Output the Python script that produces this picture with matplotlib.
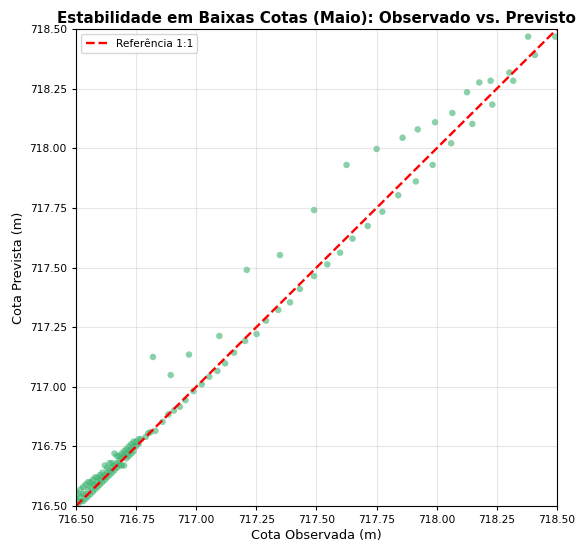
import numpy as np
import matplotlib.pyplot as plt

# dense cluster near the bottom-left corner (observed, predicted)
obs_cluster = [716.50, 716.50, 716.50, 716.51, 716.51, 716.51, 716.52, 716.52, 716.52,
               716.53, 716.53, 716.53, 716.54, 716.54, 716.54, 716.55, 716.55, 716.55,
               716.56, 716.56, 716.56, 716.57, 716.57, 716.57, 716.58, 716.58, 716.58,
               716.59, 716.59, 716.59, 716.60, 716.60, 716.60, 716.61, 716.61, 716.61,
               716.62, 716.62, 716.62, 716.63, 716.63, 716.63, 716.64, 716.64, 716.64,
               716.65, 716.65, 716.65, 716.66, 716.66, 716.66, 716.67, 716.67, 716.67,
               716.68, 716.68, 716.68, 716.69, 716.69, 716.69, 716.70, 716.70, 716.70,
               716.71, 716.71, 716.71, 716.72, 716.72, 716.72, 716.73, 716.73, 716.73,
               716.74, 716.74, 716.74, 716.75, 716.75, 716.76, 716.76, 716.77]
pred_cluster = [716.51, 716.53, 716.56, 716.50, 716.52, 716.55, 716.52, 716.54, 716.57,
                716.52, 716.55, 716.58, 716.53, 716.55, 716.59, 716.54, 716.57, 716.60,
                716.55, 716.58, 716.60, 716.56, 716.59, 716.61, 716.57, 716.59, 716.62,
                716.58, 716.60, 716.62, 716.59, 716.61, 716.63, 716.60, 716.62, 716.64,
                716.61, 716.63, 716.67, 716.62, 716.64, 716.66, 716.63, 716.65, 716.68,
                716.64, 716.66, 716.68, 716.65, 716.67, 716.72, 716.66, 716.68, 716.71,
                716.67, 716.69, 716.71, 716.67, 716.70, 716.72, 716.67, 716.71, 716.73,
                716.70, 716.72, 716.74, 716.71, 716.73, 716.75, 716.72, 716.74, 716.76,
                716.73, 716.75, 716.77, 716.75, 716.77, 716.76, 716.78, 716.78]

# sparser points further up the range
obs_sparse = [716.79, 716.80, 716.81, 716.82, 716.83, 716.86, 716.884, 716.894, 716.907,
              716.932, 716.955, 716.97, 716.988, 717.023, 717.054, 717.088, 717.096,
              717.12, 717.157, 717.203, 717.21, 717.251, 717.29, 717.341, 717.348,
              717.39, 717.431, 717.49, 717.49, 717.545, 717.598, 717.625, 717.65,
              717.713, 717.75, 717.774, 717.84, 717.858, 717.913, 717.921, 717.983,
              717.993, 718.06, 718.065, 718.126, 718.148, 718.177, 718.224, 718.231,
              718.302, 718.318, 718.38, 718.408, 718.493]
pred_sparse = [716.79, 716.805, 716.81, 717.125, 716.815, 716.853, 716.884, 717.049, 716.90,
               716.916, 716.944, 717.135, 716.982, 717.010, 717.042, 717.066, 717.213,
               717.098, 717.143, 717.192, 717.49, 717.221, 717.277, 717.322, 717.552,
               717.354, 717.41, 717.464, 717.741, 717.513, 717.562, 717.930, 717.621,
               717.674, 717.997, 717.734, 717.803, 718.044, 717.861, 718.079, 717.930,
               718.109, 718.021, 718.148, 718.235, 718.102, 718.276, 718.283, 718.183,
               718.317, 718.283, 718.468, 718.391, 718.468]

lims = [716.5, 718.5]

obs = np.array(obs_cluster + obs_sparse)
pred = np.array(pred_cluster + pred_sparse)

fig = plt.figure(figsize=(5.77, 5.43), dpi=100)
ax = fig.add_axes([0.1317, 0.0681, 0.8336, 0.8785])

ax.scatter(obs, pred, s=22, color='mediumseagreen', alpha=0.6, edgecolors='none')
ax.plot(lims, lims, 'r--', lw=1.7, label='Referência 1:1')

ax.set_xlim(lims)
ax.set_ylim(lims)
ax.set_xticks(np.arange(716.5, 718.51, 0.25))
ax.set_yticks(np.arange(716.5, 718.51, 0.25))
ax.xaxis.set_major_formatter(plt.FormatStrFormatter('%.2f'))
ax.yaxis.set_major_formatter(plt.FormatStrFormatter('%.2f'))
ax.tick_params(labelsize=7.7, length=3)
ax.set_xlabel('Cota Observada (m)', fontsize=9.3, labelpad=3)
ax.set_ylabel('Cota Prevista (m)', fontsize=9.3, labelpad=3)
ax.set_title('Estabilidade em Baixas Cotas (Maio): Observado vs. Previsto',
             fontsize=10.9, fontweight='bold', pad=4)
ax.grid(True, alpha=0.3)
ax.legend(loc='upper left', fontsize=7.7)

fig.savefig('out.png', dpi=100)
